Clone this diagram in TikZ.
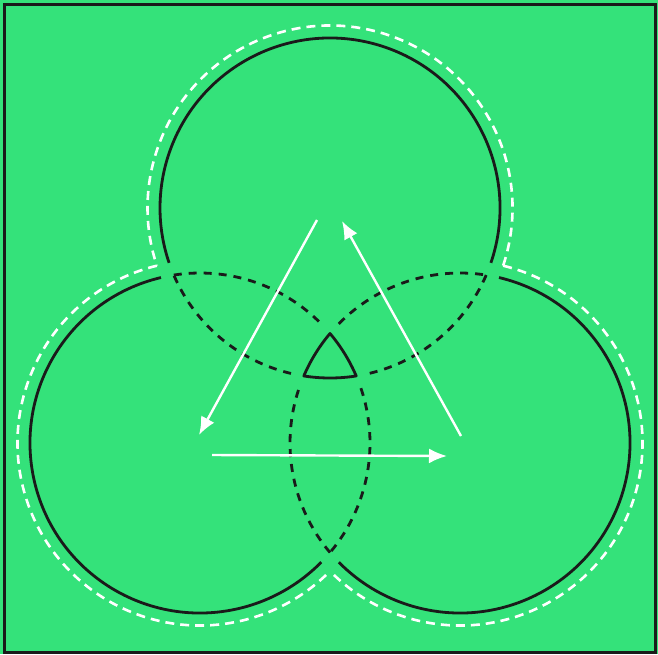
\documentclass[tikz,border=0pt]{standalone}
\usepackage{tikz}
\usetikzlibrary{
	arrows.meta,
	positioning
}
\definecolor{mintgreen}{RGB}{52,226,122}
\definecolor{inkblack}{RGB}{26,26,26}

\begin{document}
\begin{tikzpicture}[
			x=1pt, y=1pt,
			ring/.style={
				draw=inkblack,
				line width=2.8pt
			},
			hidden/.style={
				ring,
				dash pattern=on 8pt off 7pt
			},
			halo/.style={
				draw=white,
				line width=2.6pt,
				dash pattern=on 9pt off 6pt
			},
			arr/.style={
				draw=white,
				line width=2.4pt,
				-{Latex[length=18pt,width=15pt]}
			}
			]
			
			\useasboundingbox (0,0) rectangle (658,-654);
			\fill[mintgreen] (0,0) rectangle (658,-654);
			\draw[inkblack, line width=3pt] (4,-4) rectangle (655,-652.5);
			
			\coordinate (top) at (330,-208);
			\coordinate (left) at (200,-443);
			\coordinate (right) at (460,-443);
			
			% white outline round the union
			\draw[halo] (top) ++(-18.42:182.5) arc[start angle=-18.42, end angle=198.42, radius=182.5];
			\draw[halo] (left) ++(103.68:182.5) arc[start angle=103.68, end angle=315.42, radius=182.5];
			\draw[halo] (right) ++(76.32:182.5) arc[start angle=76.32, end angle=-135.42, radius=182.5];
			
			% outer arcs
			\draw[ring] (top) ++(-18.83:170) arc[start angle=-18.83, end angle=198.83, radius=170];
			\draw[ring] (left) ++(103.27:170) arc[start angle=103.27, end angle=315.48, radius=170];
			\draw[ring] (right) ++(76.73:170) arc[start angle=76.73, end angle=-135.48, radius=170];
			
			% arcs inside the other circles
			\draw[hidden] (top) ++(-23.23:170) arc[start angle=-23.23, end angle=-76.73, radius=170];
			\draw[hidden] (top) ++(-103.27:170) arc[start angle=-103.27, end angle=-156.77, radius=170];
			\draw[hidden] (left) ++(98.87:170) arc[start angle=98.87, end angle=44.52, radius=170];
			\draw[hidden] (left) ++(18.83:170) arc[start angle=18.83, end angle=-40.12, radius=170];
			\draw[hidden] (right) ++(220.12:170) arc[start angle=220.12, end angle=161.17, radius=170];
			\draw[hidden] (right) ++(135.48:170) arc[start angle=135.48, end angle=81.13, radius=170];
			
			% common part
			\draw[ring, line join=round] (top) ++(-81.13:170)
				arc[start angle=-81.13, end angle=-98.87, radius=170]
				arc[start angle=156.77, end angle=139.88, radius=170]
				arc[start angle=40.12, end angle=23.23, radius=170] -- cycle;
			
			% arrows
			\coordinate (fromtop) at (317,-220);
			\coordinate (toleft) at (199,-435);
			\coordinate (fromleft) at (212,-455);
			\coordinate (toright) at (447,-456);
			\coordinate (fromright) at (461,-436);
			\coordinate (totop) at (342,-221);
			
			\draw[arr] (fromtop) -- (toleft);
			\draw[arr] (fromleft) -- (toright);
			\draw[arr] (fromright) -- (totop);
			
		\end{tikzpicture}
\end{document}
